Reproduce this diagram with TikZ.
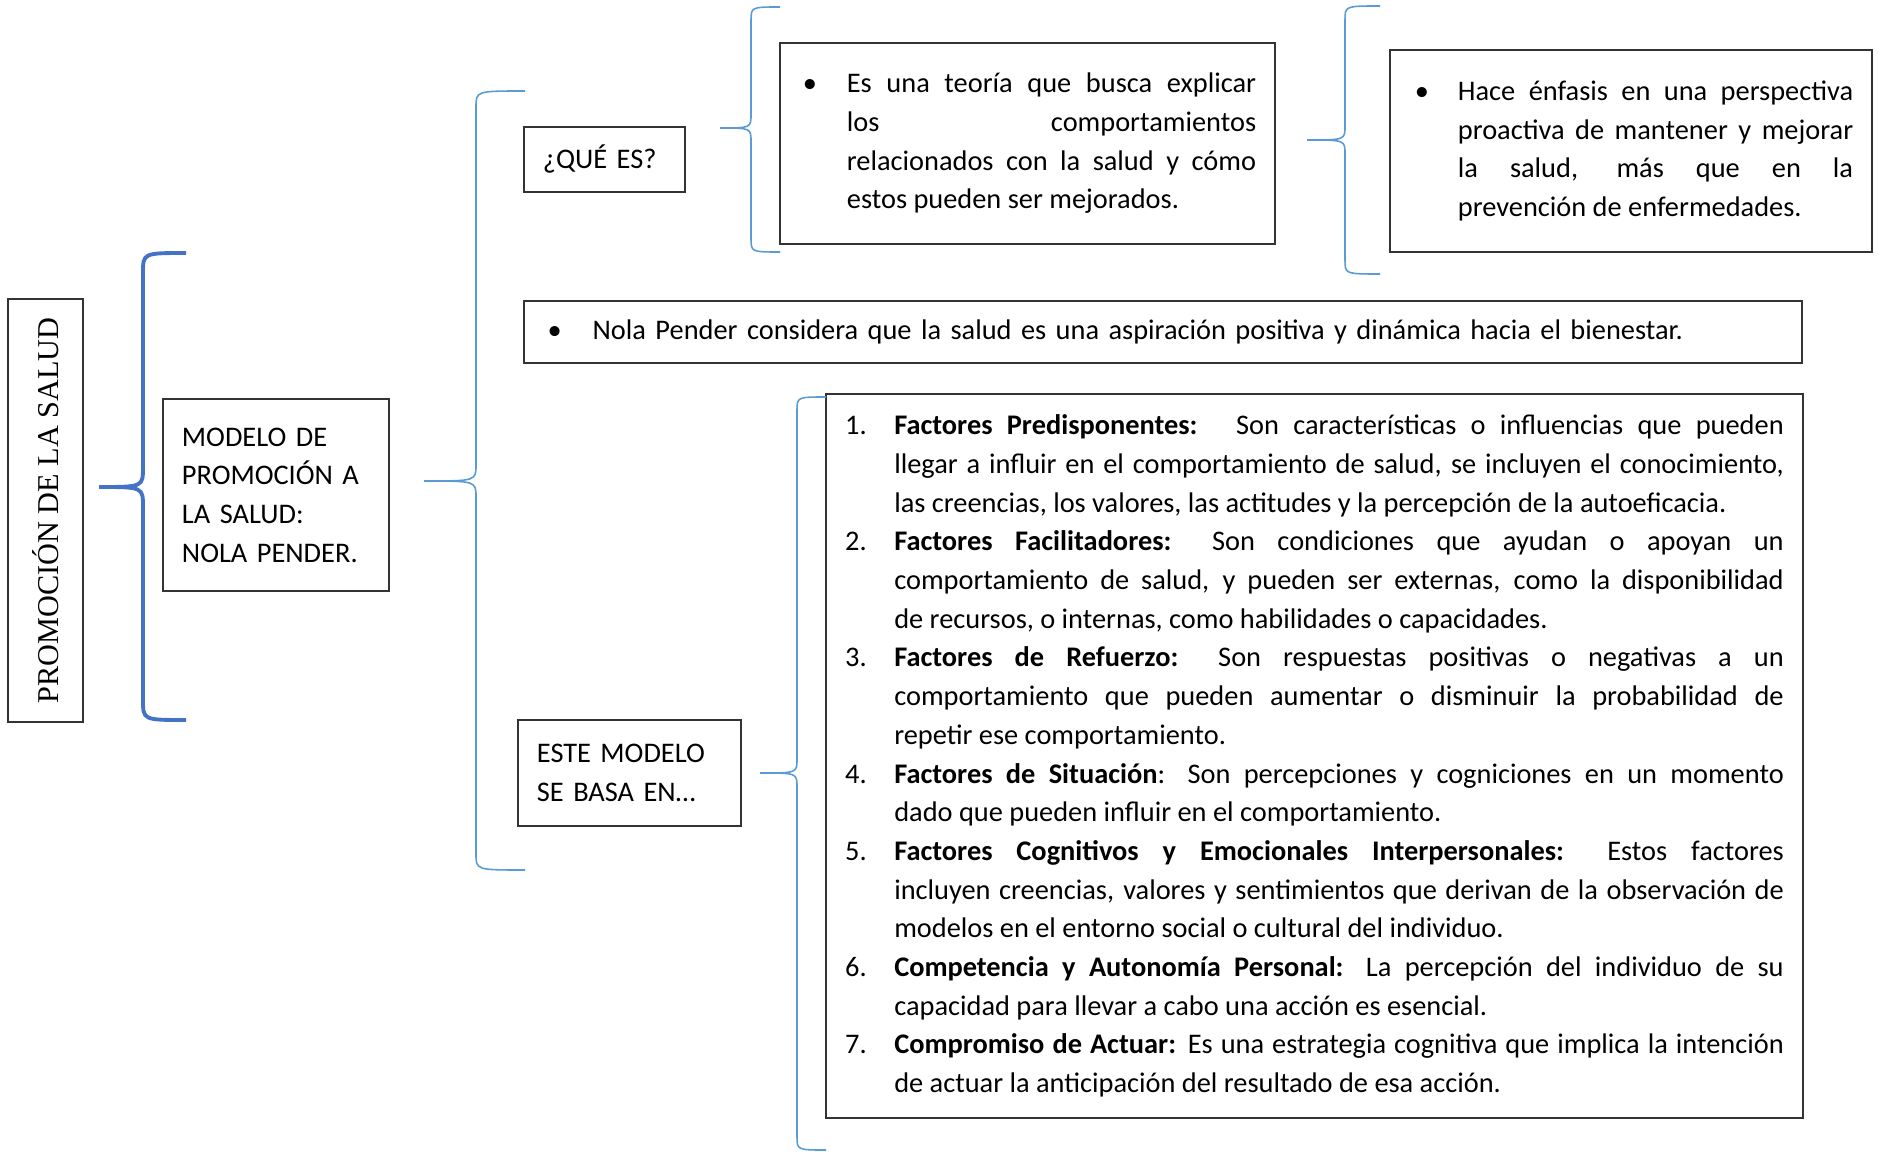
\documentclass[tikz,border=0pt]{standalone}
\usepackage{fontspec}
\setmainfont{Carlito}
\newfontfamily\titulofont{Liberation Serif}
\usetikzlibrary{positioning}
\definecolor{azulllave}{HTML}{4472C4}
\definecolor{azulclaro}{HTML}{5B9BD5}
\newcommand{\cuerpo}{\fontsize{8.07}{11}\selectfont}
\newcommand{\vineta}[2]{\hangindent=#1\hangafter=1\noindent\makebox[#1][l]{#2}}
% brace: style, tip x, tip y, spine x, ends x, top y, bottom y, radius
\newcommand{\llave}[8][]{%
  \draw[#1] (#5,#6) .. controls (#4,#6) .. (#4,#6+#8) -- (#4,#3-#8)
    .. controls (#4,#3) .. (#2,#3) .. controls (#4,#3) .. (#4,#3+#8)
    -- (#4,#7-#8) .. controls (#4,#7) .. (#5,#7);}
\tikzset{
  caja/.style={rectangle, draw=black!80, line width=0.6pt, font=\cuerpo,
               inner xsep=0.19cm, inner ysep=0pt},
  llavegruesa/.style={azulllave, line width=1.1pt},
  llavefina/.style={azulclaro, line width=0.45pt},
}
\begin{document}
\begin{tikzpicture}[x=0.01cm, y=-0.01cm]
\useasboundingbox (0,0) rectangle (1879,1152);

\node[caja, rotate=90, minimum width=4.17cm, minimum height=0.75cm,
      font=\titulofont\fontsize{8.6}{10}\selectfont] (titulo) at (45.5,510.5)
      {PROMOCIÓN DE LA SALUD};

\node[caja, minimum width=2.26cm, minimum height=1.92cm, text width=1.88cm,
      align=left] (modelo) at (276,495)
      {MODELO DE\\PROMOCIÓN A\\LA SALUD:\\NOLA PENDER.};

\node[caja, minimum width=1.61cm, minimum height=0.65cm, text width=1.23cm,
      align=left] (que) at (604.5,159.5) {¿QUÉ ES?};

\node[caja, minimum width=4.95cm, minimum height=2.01cm, text width=4.57cm,
      align=justify] (teoria) at (1027.5,143.5)
      {\vineta{0.48cm}{\hspace{0.04cm}\textbullet}Es una teoría que busca explicar\linebreak
       los comportamientos\linebreak relacionados con la salud y cómo\linebreak
       estos pueden ser mejorados.\par};

\node[caja, minimum width=4.82cm, minimum height=2.02cm, text width=4.44cm,
      align=justify] (enfasis) at (1631,151)
      {\vineta{0.49cm}{\hspace{0.06cm}\textbullet}Hace énfasis en una perspectiva\linebreak
       proactiva de mantener y mejorar\linebreak la salud, más que en la\linebreak
       prevención de enfermedades.\par};

\node[caja, minimum width=12.78cm, minimum height=0.62cm, text width=12.40cm,
      align=left] (nola) at (1163,332)
      {\vineta{0.50cm}{\hspace{0.05cm}\textbullet}Nola Pender considera que la salud es una aspiración positiva y dinámica hacia el bienestar.};

\node[caja, minimum width=2.23cm, minimum height=1.06cm, text width=1.85cm,
      align=left] (este) at (629.5,773) {ESTE MODELO\\SE BASA EN…};

% numbered list of factors
\node[caja, minimum width=9.77cm, minimum height=7.24cm, text width=9.38cm,
      align=justify] (factores) at (1314.5,756)
      {\vineta{0.49cm}{1.}\textbf{Factores Predisponentes:}~ Son características o influencias que pueden\linebreak
       llegar a influir en el comportamiento de salud, se incluyen el conocimiento,\linebreak
       las creencias, los valores, las actitudes y la percepción de la autoeficacia.\par
       \vineta{0.49cm}{2.}\textbf{Factores Facilitadores:} Son condiciones que ayudan o apoyan un\linebreak
       comportamiento de salud, y pueden ser externas, como la disponibilidad\linebreak
       de recursos, o internas, como habilidades o capacidades.\par
       \vineta{0.49cm}{3.}\textbf{Factores de Refuerzo:} Son respuestas positivas o negativas a un\linebreak
       comportamiento que pueden aumentar o disminuir la probabilidad de\linebreak
       repetir ese comportamiento.\par
       \vineta{0.49cm}{4.}\textbf{Factores de Situación}: Son percepciones y cogniciones en un momento\linebreak
       dado que pueden influir en el comportamiento.\par
       \vineta{0.49cm}{5.}\textbf{Factores Cognitivos y Emocionales Interpersonales:} Estos factores\linebreak
       incluyen creencias, valores y sentimientos que derivan de la observación de\linebreak
       modelos en el entorno social o cultural del individuo.\par
       \vineta{0.49cm}{6.}\textbf{Competencia y Autonomía Personal:} La percepción del individuo de su\linebreak
       capacidad para llevar a cabo una acción es esencial.\par
       \vineta{0.49cm}{7.}\textbf{Compromiso de Actuar:} Es una estrategia cognitiva que implica la intención\linebreak
       de actuar la anticipación del resultado de esa acción.\par};

% braces
\llave[llavegruesa]{99}{487}{143}{186}{253}{720}{20}
\llave[llavefina]{424}{481}{476}{525}{91}{870}{16}
\llave[llavefina]{720}{128}{751}{780}{7}{252}{14}
\llave[llavefina]{1307}{140}{1345}{1380}{6}{274}{14}
\llave[llavefina]{760}{773}{797}{826}{397}{1150}{14}

\end{tikzpicture}
\end{document}
